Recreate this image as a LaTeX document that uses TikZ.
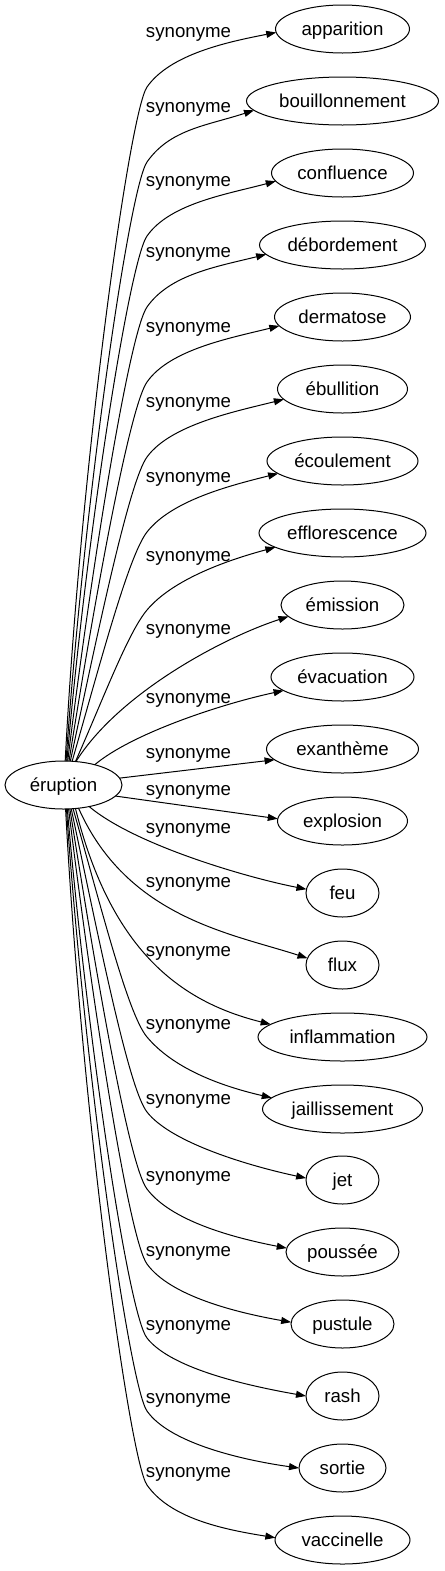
\documentclass[tikz,border=0pt]{standalone}
\usepackage{fontspec}
\setmainfont{Liberation Sans}
\usetikzlibrary{shapes.geometric,arrows.meta}
\begin{document}
\begin{tikzpicture}[x=0.75pt,y=0.75pt,
  trm/.style={draw, ellipse, inner sep=0pt, outer sep=0pt, minimum height=36pt,
    text height=9pt, text depth=0pt, font=\fontsize{14pt}{16pt}\selectfont, line width=0.75pt},
  lbl/.style={inner sep=0pt, anchor=base, font=\fontsize{14pt}{16pt}\selectfont},
  lnk/.style={line width=0.75pt, -{Triangle[length=7.5pt,width=5.25pt]}}]
\useasboundingbox (0,0) rectangle (444,-1571);

% source
\node[trm, minimum width=87.75pt] (e) at (63.5,-785) {éruption};

% targets
\node[trm, minimum width=100.5pt]  (t1)  at (342.5,-29)   {apparition};
\node[trm, minimum width=144pt]    (t2)  at (342.5,-101)  {bouillonnement};
\node[trm, minimum width=106.5pt]  (t3)  at (342.5,-173)  {confluence};
\node[trm, minimum width=124.5pt]  (t4)  at (342.5,-245)  {débordement};
\node[trm, minimum width=102pt]    (t5)  at (342.5,-317)  {dermatose};
\node[trm, minimum width=97.5pt]   (t6)  at (342.5,-389)  {ébullition};
\node[trm, minimum width=113.25pt] (t7)  at (342.5,-461)  {écoulement};
\node[trm, minimum width=125.25pt] (t8)  at (342.5,-533)  {efflorescence};
\node[trm, minimum width=92.25pt]  (t9)  at (342.5,-605)  {émission};
\node[trm, minimum width=107.25pt] (t10) at (342.5,-677)  {évacuation};
\node[trm, minimum width=114pt]    (t11) at (342.5,-749)  {exanthème};
\node[trm, minimum width=97.5pt]   (t12) at (342.5,-821)  {explosion};
\node[trm, minimum width=54.75pt]  (t13) at (342.5,-893)  {feu};
\node[trm, minimum width=54.75pt]  (t14) at (342.5,-965)  {flux};
\node[trm, minimum width=126.75pt] (t15) at (342.5,-1037) {inflammation};
\node[trm, minimum width=120pt]    (t16) at (342.5,-1109) {jaillissement};
\node[trm, minimum width=54.75pt]  (t17) at (342.5,-1180) {jet};
\node[trm, minimum width=84.75pt]  (t18) at (342.5,-1252) {poussée};
\node[trm, minimum width=77.25pt]  (t19) at (342.5,-1324) {pustule};
\node[trm, minimum width=54.75pt]  (t20) at (342.5,-1396) {rash};
\node[trm, minimum width=65.25pt]  (t21) at (342.5,-1468) {sortie};
\node[trm, minimum width=101.25pt] (t22) at (342.5,-1540) {vaccinelle};

% labels
\node[lbl] (l1)  at (188.5,-37.5)   {synonyme};
\node[lbl] (l2)  at (188.5,-112.5)  {synonyme};
\node[lbl] (l3)  at (188.5,-186.5)  {synonyme};
\node[lbl] (l4)  at (188.5,-257.5)  {synonyme};
\node[lbl] (l5)  at (188.5,-332.5)  {synonyme};
\node[lbl] (l6)  at (188.5,-407.5)  {synonyme};
\node[lbl] (l7)  at (188.5,-482.5)  {synonyme};
\node[lbl] (l8)  at (188.5,-561.5)  {synonyme};
\node[lbl] (l9)  at (188.5,-634.5)  {synonyme};
\node[lbl] (l10) at (188.5,-703.5)  {synonyme};
\node[lbl] (l11) at (188.5,-758.5)  {synonyme};
\node[lbl] (l12) at (188.5,-795.5)  {synonyme};
\node[lbl] (l13) at (188.5,-833.5)  {synonyme};
\node[lbl] (l14) at (188.5,-887.5)  {synonyme};
\node[lbl] (l15) at (188.5,-956.5)  {synonyme};
\node[lbl] (l16) at (188.5,-1029.5) {synonyme};
\node[lbl] (l17) at (188.5,-1104.5) {synonyme};
\node[lbl] (l18) at (188.5,-1181.5) {synonyme};
\node[lbl] (l19) at (188.5,-1256.5) {synonyme};
\node[lbl] (l20) at (188.5,-1330.5) {synonyme};
\node[lbl] (l21) at (188.5,-1403.5) {synonyme};
\node[lbl] (l22) at (188.5,-1477.5) {synonyme};

% gates where the edges bend past the labels
\coordinate (g1)  at (147,-87);
\coordinate (g2)  at (147,-162);
\coordinate (g3)  at (147,-236);
\coordinate (g4)  at (147,-307);
\coordinate (g5)  at (147,-382);
\coordinate (g6)  at (147,-457);
\coordinate (g7)  at (147,-532);
\coordinate (g8)  at (147,-610);
\coordinate (g16) at (147,-1037);
\coordinate (g17) at (147,-1112);
\coordinate (g18) at (147,-1189);
\coordinate (g19) at (147,-1264);
\coordinate (g20) at (147,-1338);
\coordinate (g21) at (147,-1411);
\coordinate (g22) at (147,-1485);

% upper edges
\draw[lnk] (e.86) .. controls +(87:303) and +(235:30) .. (g1) .. controls +(55:40) and +(191:50) .. (t1.183);
\draw[lnk] (e.84) .. controls +(86:270) and +(235:30) .. (g2) .. controls +(55:40) and +(198:50) .. (t2.186);
\draw[lnk] (e.82) .. controls +(85:236) and +(235:30) .. (g3) .. controls +(55:40) and +(195:50) .. (t3.187);
\draw[lnk] (e.80) .. controls +(83:204) and +(235:30) .. (g4) .. controls +(55:40) and +(194:50) .. (t4.187);
\draw[lnk] (e.77) .. controls +(81:171) and +(235:30) .. (g5) .. controls +(55:40) and +(194:50) .. (t5.188);
\draw[lnk] (e.74) .. controls +(78:137) and +(234:30) .. (g6) .. controls +(54:40) and +(194:50) .. (t6.190);
\draw[lnk] (e.70) .. controls +(74:103) and +(232:30) .. (g7) .. controls +(52:40) and +(194:50) .. (t7.191);
\draw[lnk] (e.63) .. controls +(66:68) and +(230:30) .. (g8) .. controls +(50:40) and +(195:50) .. (t8.192);
\draw[lnk] (e.62) .. controls +(58:80) and +(198:70) .. (t9.192);
\draw[lnk] (e.33) .. controls +(40:50) and +(192:60) .. (t10.193);
\draw[lnk] (e.7) -- (t11.189);
% lower edges
\draw[lnk] (e.-12) -- (t12.178);
\draw[lnk] (e.-40) .. controls +(-40:60) and +(169:60) .. (t13.174);
\draw[lnk] (e.-57) .. controls +(-66:120) and +(162:80) .. (t14.169);
\draw[lnk] (e.-63) .. controls +(-76:150) and +(166:90) .. (t15.170);
\draw[lnk] (e.-68) .. controls +(-74:103) and +(130:30) .. (g16) .. controls +(-50:40) and +(167:55) .. (t16.171);
\draw[lnk] (e.-72) .. controls +(-78:136) and +(128:30) .. (g17) .. controls +(-52:40) and +(168:55) .. (t17.177);
\draw[lnk] (e.-75) .. controls +(-81:171) and +(127:30) .. (g18) .. controls +(-53:40) and +(169:55) .. (t18.176);
\draw[lnk] (e.-78) .. controls +(-83:205) and +(126:30) .. (g19) .. controls +(-54:40) and +(170:55) .. (t19.178);
\draw[lnk] (e.-81) .. controls +(-85:238) and +(128:30) .. (g20) .. controls +(-52:40) and +(170:55) .. (t20.180);
\draw[lnk] (e.-83) .. controls +(-86:271) and +(125:30) .. (g21) .. controls +(-55:40) and +(172:55) .. (t21.180);
\draw[lnk] (e.-85) .. controls +(-87:304) and +(125:30) .. (g22) .. controls +(-55:40) and +(171:55) .. (t22.178);
\end{tikzpicture}
\end{document}
